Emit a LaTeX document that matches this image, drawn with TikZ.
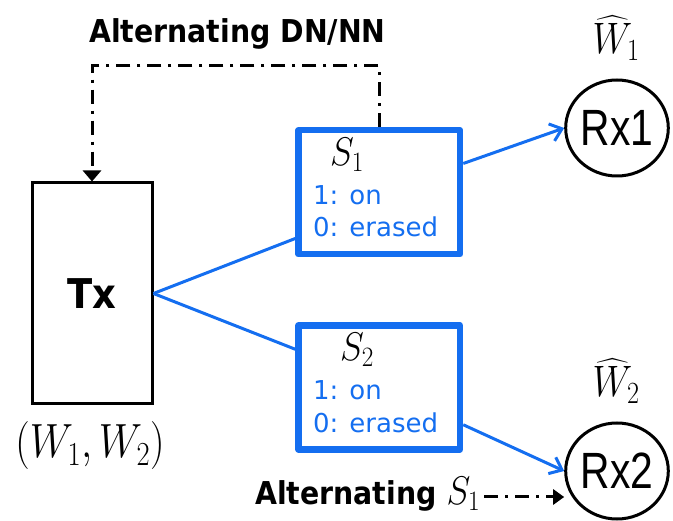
\RequirePackage{fix-cm}
\documentclass[tikz,border=0pt]{standalone}
\usepackage{amsmath}
\usepackage{fontspec}
\usepackage{graphicx}
\usetikzlibrary{arrows.meta,shapes.geometric,calc}
\definecolor{sblue}{RGB}{20,110,240}
\newfontfamily\boldsans[FakeStretch=0.9]{DejaVu Sans}
\newfontfamily\plainsans{DejaVu Sans}
\newfontfamily\rxsans[FakeStretch=0.8]{Liberation Sans}
\newcommand\sqz[2][0.9]{\scalebox{#1}[1]{#2}}
\begin{document}
\begin{tikzpicture}[x=1pt,y=-1pt,
  txbox/.style={draw, line width=3pt, minimum width=120pt, minimum height=221pt, inner sep=0pt},
  sbox/.style={draw=sblue, line width=6.5pt, line join=round, minimum width=161.5pt, minimum height=124pt, inner sep=0pt},
  rxnode/.style={draw, ellipse, line width=3pt, minimum width=88pt, minimum height=96pt, inner sep=0pt, font=\rxsans\fontsize{51}{54}\selectfont},
  boldlbl/.style={inner sep=0pt, font=\boldsans\bfseries\fontsize{31.5}{36}\selectfont},
  bluelbl/.style={inner sep=0pt, text=sblue, font=\plainsans\fontsize{26}{30}\selectfont},
  mathlbl/.style={inner sep=0pt},
  link/.style={draw=sblue, line width=3pt, -{Straight Barb[length=11pt,width=18pt]}},
  nolink/.style={draw=sblue, line width=3pt},
  dashdot/.style={line width=3pt, dash pattern=on 14pt off 7pt on 3pt off 7pt}
]
\useasboundingbox (0,0) rectangle (673,521);

% transmitter
\node[txbox, font=\boldsans\bfseries\fontsize{41}{44}\selectfont] (tx) at (92,293.5) {Tx};
\node[mathlbl] (w12) at (90,446) {\fontsize{48}{52}\selectfont\sqz[0.85]{$(W_1,W_2)$}};

% top label
\node[boldlbl, anchor=base west] (alt1) at (89,43) {Alternating DN/NN};

% state boxes
\node[sbox] (s1) at (379.25,192.25) {};
\node[mathlbl, anchor=base west] (s1name) at (330,166) {\fontsize{40}{44}\selectfont\sqz{$S_1$}};
\node[bluelbl, anchor=base west] (s1on) at (313,205) {1: on};
\node[bluelbl, anchor=base west] (s1er) at (313,237) {0: erased};

\node[sbox] (s2) at (379.25,387.5) {};
\node[mathlbl, anchor=base west] (s2name) at (340,361) {\fontsize{40}{44}\selectfont\sqz{$S_2$}};
\node[bluelbl, anchor=base west] (s2on) at (313,400) {1: on};
\node[bluelbl, anchor=base west] (s2er) at (313,433) {0: erased};

% receivers
\node[rxnode] (rx1) at (617,128) {Rx1};
\node[rxnode] (rx2) at (617,471) {Rx2};
\node[mathlbl] (w1) at (616,38) {\fontsize{44}{48}\selectfont\sqz[0.85]{$\widehat{W}_1$}};
\node[mathlbl] (w2) at (616,381) {\fontsize{44}{48}\selectfont\sqz[0.85]{$\widehat{W}_2$}};

% bottom label
\node[boldlbl, anchor=base west] (alt2) at (255,505) {Alternating \sqz{\fontsize{40}{44}\selectfont$S_1$}};

% connectors
\draw[nolink] (tx.east) -- ([yshift=19pt]s1.south west);
\draw[nolink] (tx.east) -- ([yshift=-27pt]s2.north west);
\draw[link] ([yshift=-36.5pt]s1.north east) -- (rx1.west);
\draw[link] ([yshift=28pt]s2.south east) -- (rx2.west);

\coordinate (bend) at (92,66);
\draw[dashdot, -{Triangle[length=11pt,width=18pt]}] (s1.north) -- (s1.north |- bend) -| (tx.north);

\coordinate (dstart) at (484,497);
\draw[dashdot, -{Triangle[length=11pt,width=15pt]}] (dstart) -- (dstart -| rx2.west);
\end{tikzpicture}
\end{document}
